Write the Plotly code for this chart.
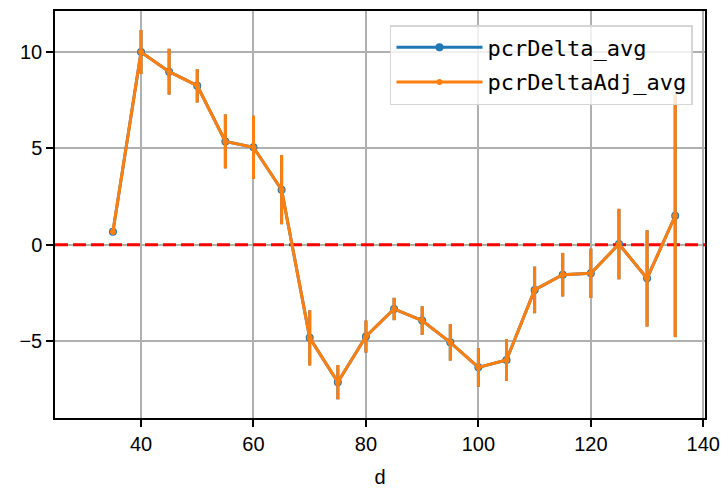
import plotly.graph_objects as go

# distance bins and the two averaged deltas (identical in the source picture)
d = [35, 40, 45, 50, 55, 60, 65, 70, 75, 80, 85, 90, 95, 100, 105, 110, 115, 120, 125, 130, 135]
pcr_delta_avg = [0.67, 10.0, 8.98, 8.25, 5.36, 5.05, 2.85, -4.84, -7.14, -4.77, -3.34, -3.94,
                 -5.07, -6.37, -5.99, -2.35, -1.56, -1.49, 0.03, -1.75, 1.5]
pcr_delta_adj_avg = list(pcr_delta_avg)
err = [0.15, 1.14, 1.19, 0.87, 1.4, 1.64, 1.79, 1.43, 0.89, 0.83, 0.58, 0.74,
       0.95, 1.0, 1.09, 1.21, 1.13, 1.28, 1.83, 2.5, 6.3]
x_ticks = [40, 60, 80, 100, 120, 140]
y_ticks = [-5, 0, 5, 10]
x_range = [24.7, 140.3]
y_range = [-9.0, 12.13]

BLUE = "#1f77b4"
ORANGE = "#ff7f0e"

fig = go.Figure()

# red dashed zero line, drawn first so it sits under the data
fig.add_trace(go.Scatter(
    x=x_range, y=[0, 0], mode="lines", showlegend=False, hoverinfo="skip",
    line=dict(color="red", width=3, dash="13px,5px"),
))

fig.add_trace(go.Scatter(
    x=d, y=pcr_delta_avg, name="pcrDelta_avg", mode="lines+markers", legendgroup="a",
    line=dict(color=BLUE, width=3), marker=dict(color=BLUE, size=8),
    error_y=dict(type="data", array=err, color=BLUE, thickness=3, width=0),
))
fig.add_trace(go.Scatter(
    x=d, y=pcr_delta_adj_avg, name="pcrDeltaAdj_avg", mode="lines+markers", legendgroup="b",
    line=dict(color=ORANGE, width=3), marker=dict(color=ORANGE, size=6),
    error_y=dict(type="data", array=err, color=ORANGE, thickness=3, width=0),
))

axis_common = dict(
    showline=True, linecolor="black", linewidth=1.5, mirror=True,
    ticks="outside", tickcolor="black", ticklen=7, tickwidth=1.5,
    showgrid=True, gridcolor="#b0b0b0", gridwidth=1.5, zeroline=False,
    tickfont=dict(family="Liberation Sans, Arial, sans-serif", size=20, color="black"),
    automargin=False,
)

# the page body adds an 8px margin, so the figure is 8px smaller and shifted
fig.update_layout(
    width=720, height=480,
    margin=dict(l=47, r=23, t=3, b=70),
    plot_bgcolor="white", paper_bgcolor="white",
    font=dict(family="Liberation Sans, Arial, sans-serif", color="black"),
    xaxis=dict(range=x_range, tickvals=x_ticks,
               title=dict(text="d", font=dict(size=20), standoff=17), **axis_common),
    yaxis=dict(range=y_range, tickvals=y_ticks, **axis_common),
    legend=dict(x=0.9815, y=0.9656, xanchor="right", yanchor="top",
                bgcolor="rgba(255,255,255,0.8)", bordercolor="#d6d6d6", borderwidth=1.5,
                font=dict(family="DejaVu Sans Mono, monospace", size=22),
                itemwidth=86, tracegroupgap=3),
    showlegend=True,
)

fig.write_html("out.html")
